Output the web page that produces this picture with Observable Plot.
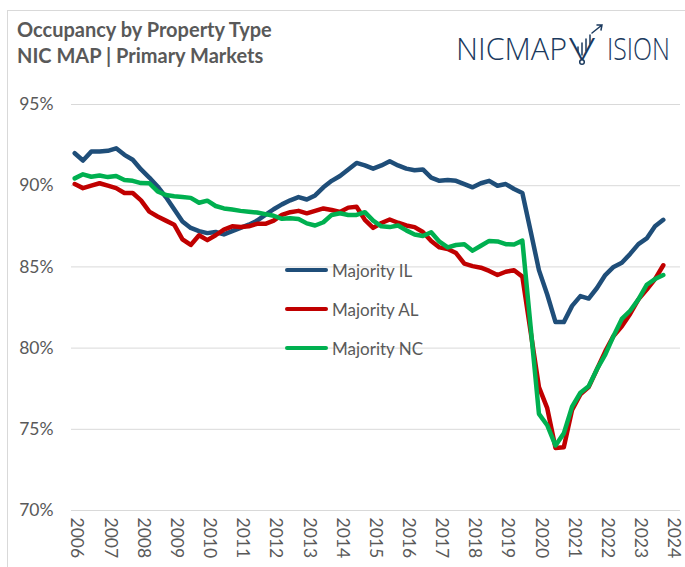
<!DOCTYPE html>
<html><head><meta charset="utf-8">
<script src="https://cdn.jsdelivr.net/npm/d3@7"></script>
<script src="https://cdn.jsdelivr.net/npm/@observablehq/plot@0.6"></script>
<style>
body{margin:0;background:#fff;}
#wrap{position:relative;width:685px;height:567px;overflow:hidden;font-family:Lato,"Open Sans",sans-serif;background:#fff;}
#frame{position:absolute;left:7px;top:10px;width:700px;height:600px;border-left:1px solid #d9d9d9;border-top:1px solid #d9d9d9;}
#title{position:absolute;left:17px;top:16px;font-weight:bold;font-size:20px;color:#595959;line-height:26px;white-space:nowrap;}
#chart{position:absolute;left:0;top:80px;}
#logo{position:absolute;left:440px;top:24px;overflow:visible;}
.leg{position:absolute;left:285px;height:20px;display:flex;align-items:center;font-size:17px;color:#595959;white-space:nowrap;}
.leg span.sw{display:inline-block;width:43px;height:4.5px;border-radius:3px;margin-right:4px;}
</style>
</head><body>
<div id="wrap">
  <div id="frame"></div>
  <div id="title">Occupancy by Property Type<br>NIC MAP | Primary Markets</div>
  <svg id="logo" width="240" height="46">
    <text class="lt" data-x="16" data-w="111" y="36" font-size="32" font-family="Open Sans" font-weight="300" fill="#1b3a5e">NICMAP</text>
    <text class="lt" data-x="129" data-w="26" y="36" font-size="32" font-family="Open Sans" font-weight="300" fill="#1b3a5e">V</text>
    <g stroke="#1b3a5e" fill="none" stroke-width="1.5" stroke-linecap="round">
      <path d="M138 23 L138 28 M142 19 L142 31 M146 15 L146 27 M150 11 L150 20"/>
      <path d="M152 9 L162 1 M157 1 L162 1 L161 6"/>
      <circle cx="142" cy="38" r="2.3"/>
    </g>
    <text class="lt" data-x="167" data-w="63" y="36" font-size="32" font-family="Open Sans" font-weight="300" fill="#1b3a5e">ISION</text>
  </svg>
  <div id="chart"></div>
  <div id="legend"></div>
</div>
<script>
// Quarterly series, first point = 2006 Q3, last point = 2024 Q2
const startYear = 2006;
const startQuarter = 3;
const seriesNames = ["Majority IL", "Majority AL", "Majority NC"];
const seriesColors = ["#1f4e79", "#c00000", "#00b050"];
const yearLabels = [2006,2007,2008,2009,2010,2011,2012,2013,2014,2015,2016,2017,2018,2019,2020,2021,2022,2023,2024];
const yTicks = [70,75,80,85,90,95];

const majorityIL = [92.0,91.55,92.1,92.1,92.15,92.3,91.9,91.6,91.0,90.5,89.95,89.3,88.55,87.8,87.4,87.2,
  87.08,87.15,87.0,87.2,87.4,87.6,87.85,88.2,88.55,88.85,89.1,89.3,89.15,89.4,89.9,90.3,
  90.6,91.0,91.4,91.25,91.05,91.25,91.5,91.25,91.05,90.95,91.0,90.5,90.3,90.35,90.3,90.1,
  89.9,90.15,90.3,90.0,90.1,89.8,89.55,87.2,84.8,83.3,81.6,81.6,82.6,83.2,83.05,83.7,
  84.5,85.0,85.25,85.8,86.4,86.75,87.5,87.9];
const majorityAL = [90.1,89.85,90.0,90.15,90.0,89.85,89.55,89.55,89.1,88.4,88.1,87.85,87.6,86.7,86.35,86.95,
  86.65,86.95,87.3,87.5,87.45,87.5,87.65,87.65,87.85,88.2,88.37,88.45,88.3,88.45,88.6,88.5,
  88.38,88.65,88.7,87.9,87.4,87.7,87.92,87.72,87.55,87.45,87.15,86.6,86.2,86.1,85.85,85.2,
  85.05,84.95,84.75,84.5,84.7,84.8,84.4,81.0,77.6,76.3,73.85,73.9,76.2,77.15,77.6,78.7,
  79.8,80.75,81.35,82.1,83.0,83.6,84.25,85.1];
const majorityNC = [90.45,90.7,90.55,90.63,90.53,90.6,90.35,90.3,90.16,90.15,89.65,89.43,89.35,89.3,89.25,88.95,
  89.08,88.75,88.6,88.53,88.45,88.4,88.35,88.25,88.15,87.96,88.0,87.95,87.68,87.55,87.75,88.2,
  88.3,88.2,88.2,88.37,87.85,87.5,87.45,87.55,87.25,87.0,86.9,87.13,86.55,86.2,86.35,86.4,
  86.0,86.3,86.6,86.57,86.4,86.38,86.62,81.3,75.95,75.25,74.0,74.75,76.4,77.25,77.65,78.7,
  79.6,80.75,81.8,82.3,83.0,83.9,84.25,84.5];

// logo text: fit each piece to its width with a horizontal scale
document.querySelectorAll("#logo text.lt").forEach(el => {
  const natural = el.getComputedTextLength() || 1;
  const sx = (+el.dataset.w) / natural;
  el.setAttribute("transform", `translate(${el.dataset.x},0) scale(${sx},1)`);
});

const t0 = startYear + (startQuarter - 1) / 4;
const rows = [];
[majorityIL, majorityAL, majorityNC].forEach((arr, k) => {
  arr.forEach((v, i) => rows.push({t: t0 + i / 4, v, s: seriesNames[k]}));
});

const chart = Plot.plot({
  width: 685, height: 487,
  marginTop: 24, marginBottom: 57, marginLeft: 71, marginRight: 5,
  style: {fontFamily: "Lato, 'Open Sans', sans-serif", color: "#595959", background: "transparent"},
  x: {domain: [2006.4035, 2024.769]},
  y: {domain: [70, 95]},
  color: {domain: seriesNames, range: seriesColors},
  marks: [
    Plot.gridY(yTicks, {stroke: "#d9d9d9", strokeOpacity: 1, strokeWidth: 1}),
    Plot.axisY(yTicks, {tickSize: 0, tickPadding: 18, fontSize: 17.5, tickFormat: d => d + "%", label: null, fill: "#595959"}),
    Plot.axisX(yearLabels.map(y => y + 0.57), {tickSize: 0, tickPadding: 7, tickRotate: 90, fontSize: 17.5,
      tickFormat: d => String(Math.floor(d)), label: null, fill: "#595959"}),
    Plot.line(rows, {x: "t", y: "v", z: "s", stroke: "s", strokeWidth: 4.5,
      strokeLinejoin: "round", strokeLinecap: "round"})
  ]
});
document.getElementById("chart").appendChild(chart);

const legTops = [270, 309, 348];
const legend = document.getElementById("legend");
seriesNames.forEach((name, k) => {
  const d = document.createElement("div");
  d.className = "leg";
  d.style.top = (legTops[k] - 10) + "px";
  d.innerHTML = `<span class="sw" style="background:${seriesColors[k]}"></span><span>${name}</span>`;
  legend.appendChild(d);
});
</script>
</body></html>
